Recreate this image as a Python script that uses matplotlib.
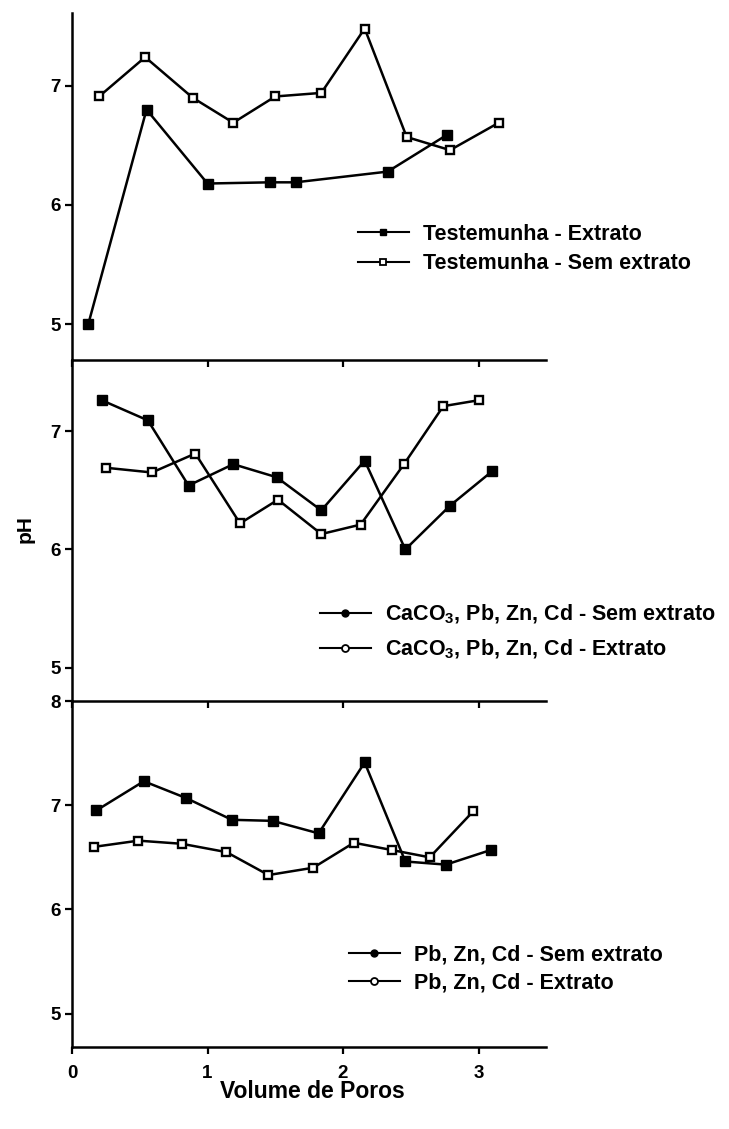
import matplotlib
matplotlib.use('Agg')
import matplotlib.pyplot as plt
from matplotlib.lines import Line2D

# Font setup: bold Arial-like look
plt.rcParams['font.family'] = ['Liberation Sans', 'DejaVu Sans']
plt.rcParams['font.weight'] = 'bold'
plt.rcParams['mathtext.fontset'] = 'custom'
plt.rcParams['mathtext.rm'] = 'Liberation Sans:bold'
plt.rcParams['mathtext.bf'] = 'Liberation Sans:bold'
plt.rcParams['mathtext.default'] = 'rm'

# Panel 1 - Testemunha
test_ext_x = [0.12, 0.55, 1.00, 1.46, 1.65, 2.33, 2.77]
test_ext_y = [5.00, 6.80, 6.18, 6.19, 6.19, 6.28, 6.59]
test_sem_x = [0.20, 0.54, 0.89, 1.19, 1.50, 1.84, 2.16, 2.47, 2.79, 3.15]
test_sem_y = [6.91, 7.24, 6.90, 6.69, 6.91, 6.94, 7.48, 6.57, 6.46, 6.69]

# Panel 2 - CaCO3, Pb, Zn, Cd
caco3_sem_x = [0.22, 0.56, 0.86, 1.19, 1.51, 1.84, 2.16, 2.46, 2.79, 3.10]
caco3_sem_y = [7.26, 7.09, 6.54, 6.72, 6.61, 6.33, 6.75, 6.00, 6.37, 6.66]
caco3_ext_x = [0.25, 0.59, 0.91, 1.24, 1.52, 1.84, 2.13, 2.45, 2.74, 3.00]
caco3_ext_y = [6.69, 6.65, 6.81, 6.22, 6.42, 6.13, 6.21, 6.72, 7.21, 7.26]

# Panel 3 - Pb, Zn, Cd
metal_sem_x = [0.18, 0.53, 0.84, 1.18, 1.48, 1.82, 2.16, 2.46, 2.76, 3.09]
metal_sem_y = [6.95, 7.23, 7.07, 6.86, 6.85, 6.73, 7.41, 6.46, 6.43, 6.57]
metal_ext_x = [0.16, 0.49, 0.81, 1.14, 1.45, 1.78, 2.08, 2.36, 2.64, 2.96]
metal_ext_y = [6.60, 6.66, 6.63, 6.55, 6.33, 6.40, 6.64, 6.57, 6.50, 6.94]

W, H = 729, 1129
fig = plt.figure(figsize=(W / 100, H / 100), dpi=100)

left = 72 / W
width = 3.5 * 135.5 / W

def make_axes(top_px, bottom_px):
    return fig.add_axes([left, 1 - bottom_px / H, width, (bottom_px - top_px) / H])

ax1 = make_axes(13, 360)
ax2 = make_axes(360, 701)
ax3 = make_axes(701, 1047)

lw = 1.8
filled = dict(color='black', lw=lw, marker='s', ms=6.5, mfc='black', mec='black')
hollow = dict(color='black', lw=lw, marker='s', ms=5.5, mfc='white', mec='black', mew=1.7)

ax1.plot(test_ext_x, test_ext_y, **filled)
ax1.plot(test_sem_x, test_sem_y, **hollow)
ax2.plot(caco3_sem_x, caco3_sem_y, **filled)
ax2.plot(caco3_ext_x, caco3_ext_y, **hollow)
ax3.plot(metal_sem_x, metal_sem_y, **filled)
ax3.plot(metal_ext_x, metal_ext_y, **hollow)

ax1.set_ylim(4.70, 7.61)
ax2.set_ylim(4.72, 7.60)
ax3.set_ylim(4.68, 8.0)
ax1.set_yticks([5, 6, 7])
ax2.set_yticks([5, 6, 7])
ax3.set_yticks([5, 6, 7, 8])

for ax in (ax1, ax2, ax3):
    ax.set_xlim(0, 3.5)
    ax.set_xticks([0, 1, 2, 3])
    for s in ('top', 'right'):
        ax.spines[s].set_visible(False)
    for s in ('left', 'bottom'):
        ax.spines[s].set_linewidth(1.8)
    ax.tick_params(direction='out', length=5, width=1.6, labelsize=13.5, pad=3)
    ax.patch.set_alpha(0)

for ax in (ax1, ax2):
    ax.tick_params(axis='x', labelbottom=False)

ax3.set_xticklabels(['0', '1', '2', '3'])
ax3.tick_params(axis='x', pad=8)

fig.text(25 / W, 1 - 529 / H, 'pH', rotation=90, ha='center', va='center', fontsize=15)
fig.text(312 / W, 1 - 1092 / H, 'Volume de Poros', ha='center', va='center', fontsize=16.5)

def add_legend(ax, labels, marker, x_px, mid_px, spacing):
    handles = [
        Line2D([], [], color='black', lw=1.5, marker=marker, ms=5, mfc='black', mec='black'),
        Line2D([], [], color='black', lw=1.5, marker=marker, ms=5, mfc='white', mec='black', mew=1.3),
    ]
    ax.legend(handles, labels, loc='center left', bbox_to_anchor=(x_px / W, 1 - mid_px / H),
              bbox_transform=fig.transFigure, frameon=False, fontsize=15.5,
              handlelength=2.35, handletextpad=0.65, labelspacing=spacing, borderpad=0,
              borderaxespad=0)

add_legend(ax1, ['Testemunha - Extrato', 'Testemunha - Sem extrato'], 's', 358, 249, 0.4)
add_legend(ax2, ['CaCO$_3$, Pb, Zn, Cd - Sem extrato', 'CaCO$_3$, Pb, Zn, Cd - Extrato'], 'o', 320, 632, 0.55)
add_legend(ax3, ['Pb, Zn, Cd - Sem extrato', 'Pb, Zn, Cd - Extrato'], 'o', 349, 969, 0.35)

fig.savefig('out.png', dpi=100)
